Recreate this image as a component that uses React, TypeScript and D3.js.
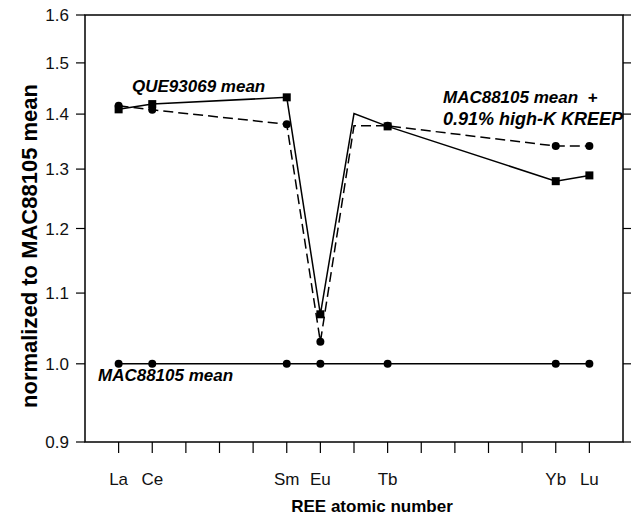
import React from 'react';
import * as d3 from 'd3';

// REE positions (atomic number) and labels shown on the x axis
const labelZ = [57, 58, 62, 63, 65, 70, 71];
const labelNames = ['La', 'Ce', 'Sm', 'Eu', 'Tb', 'Yb', 'Lu'];
const yTicks = [0.9, 1.0, 1.1, 1.2, 1.3, 1.4, 1.5, 1.6];

// QUE93069 mean (solid, squares); Gd is interpolated, no marker
const queZ = [57, 58, 62, 63, 64, 65, 70, 71];
const queValues = [1.409, 1.419, 1.432, 1.069, 1.401, 1.377, 1.279, 1.289];
const queMarked = [true, true, true, true, false, true, true, true];

// MAC88105 mean + 0.91% high-K KREEP (dashed, circles)
const mixZ = [57, 58, 62, 63, 64, 65, 70, 71];
const mixValues = [1.416, 1.408, 1.381, 1.030, 1.378, 1.378, 1.341, 1.341];
const mixMarked = [true, true, true, true, false, true, true, true];

// MAC88105 mean (reference, = 1)
const macZ = [57, 58, 62, 63, 65, 70, 71];
const macValues = [1, 1, 1, 1, 1, 1, 1];

const FONT = '"Liberation Sans", Arial, Helvetica, sans-serif';

export default function App() {
  const W = 631;
  const H = 524;
  const M = { left: 85, right: 623, top: 15, bottom: 442 };

  const x = d3.scaleLinear().domain([56, 72]).range([M.left, M.right]);
  const y = d3.scaleLog().domain([0.9, 1.6]).range([M.bottom, M.top]);

  const line = d3.line<[number, number]>()
    .x(d => x(d[0]))
    .y(d => y(d[1]));

  const zip = (zs: number[], vs: number[]) => zs.map((z, i) => [z, vs[i]] as [number, number]);
  const tickZ = d3.range(57, 72);

  return (
    <svg width={W} height={H} style={{ position: 'absolute', left: 0, top: 0, background: '#fff' }}
      fontFamily={FONT}>
      {/* frame */}
      <rect x={M.left} y={M.top} width={M.right - M.left} height={M.bottom - M.top}
        fill="none" stroke="#000" strokeWidth={1.5} />

      {/* y ticks left + right */}
      {yTicks.map(t => (
        <g key={t}>
          <line x1={M.left - 9} x2={M.left} y1={y(t)} y2={y(t)} stroke="#000" strokeWidth={1.2} />
          <line x1={M.right} x2={M.right + 9} y1={y(t)} y2={y(t)} stroke="#000" strokeWidth={1.2} />
          <text x={69} y={y(t)} dy="0.36em" textAnchor="end" fontSize={17} fill="#111">
            {t.toFixed(1)}
          </text>
        </g>
      ))}

      {/* x ticks */}
      {tickZ.map(z => (
        <line key={z} x1={x(z)} x2={x(z)} y1={M.bottom} y2={M.bottom + 11} stroke="#000" strokeWidth={1.2} />
      ))}
      {labelZ.map((z, i) => (
        <text key={z} x={x(z)} y={485} textAnchor="middle" fontSize={17} fill="#111">
          {labelNames[i]}
        </text>
      ))}

      {/* axis titles */}
      <text x={372} y={512} textAnchor="middle" fontSize={17} fontWeight="bold" fill="#000">
        REE atomic number
      </text>
      <text transform={`translate(37,246) rotate(-90)`} textAnchor="middle" fontSize={22}
        fontWeight="bold" fill="#000">
        normalized to MAC88105 mean
      </text>

      {/* lines */}
      <path d={line(zip(macZ, macValues)) || ''} fill="none" stroke="#000" strokeWidth={1.5} />
      <path d={line(zip(queZ, queValues)) || ''} fill="none" stroke="#000" strokeWidth={1.5} />
      <path d={line(zip(mixZ, mixValues)) || ''} fill="none" stroke="#000" strokeWidth={1.5}
        strokeDasharray="10,5" />

      {/* markers */}
      {macZ.map((z, i) => (
        <circle key={'mac' + z} cx={x(z)} cy={y(macValues[i])} r={4} fill="#000" />
      ))}
      {queZ.map((z, i) => queMarked[i] ? (
        <rect key={'que' + z} x={x(z) - 4} y={y(queValues[i]) - 4} width={8} height={8} fill="#000" />
      ) : null)}
      {mixZ.map((z, i) => mixMarked[i] ? (
        <circle key={'mix' + z} cx={x(z)} cy={y(mixValues[i])} r={4} fill="#000" />
      ) : null)}

      {/* annotations */}
      <g fontWeight="bold" fontStyle="italic" fontSize={17} fill="#000">
        <text x={132} y={92}>QUE93069 mean</text>
        <text x={443} y={103} xmlSpace="preserve">MAC88105 mean  +</text>
        <text x={443} y={125} fontSize={18}>0.91% high-K KREEP</text>
        <text x={98} y={381}>MAC88105 mean</text>
      </g>
    </svg>
  );
}
